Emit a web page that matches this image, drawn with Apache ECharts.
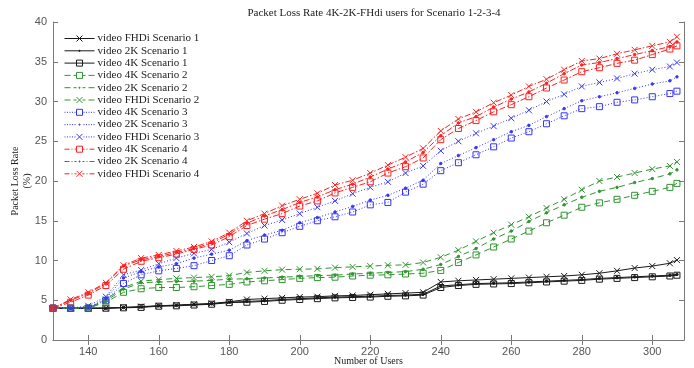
<!DOCTYPE html>
<html>
<head>
<meta charset="utf-8">
<script src="https://cdn.jsdelivr.net/npm/echarts@6/dist/echarts.min.js"></script>
<style>
  html, body { margin: 0; padding: 0; background: #fff; }
  #chart { width: 694px; height: 368px; }
</style>
</head>
<body>
<div id="chart"></div>
<script>
// number of users (x values)
var users = [130, 135, 140, 145, 150, 155, 160, 165, 170, 175, 180, 185, 190, 195, 200, 205, 210, 215, 220,
  225, 230, 235, 240, 245, 250, 255, 260, 265, 270, 275, 280, 285, 290, 295, 300, 305, 307];

var xTicks = [140, 160, 180, 200, 220, 240, 260, 280, 300];

// Scenario 1
var fhdi1 = [4.0, 4.0, 4.0, 4.0, 4.1, 4.2, 4.3, 4.4, 4.5, 4.6, 4.8, 5.1, 5.2, 5.3, 5.4, 5.45, 5.55, 5.6, 5.7,
  5.8, 5.9, 6.0, 7.3, 7.45, 7.55, 7.65, 7.75, 7.85, 7.95, 8.05, 8.2, 8.4, 8.7, 9.05, 9.3, 9.65, 10.05];
var k2_1 = [4.0, 4.0, 4.0, 4.0, 4.1, 4.15, 4.3, 4.35, 4.45, 4.55, 4.75, 4.85, 4.95, 5.1, 5.2, 5.3, 5.4, 5.45, 5.5,
  5.6, 5.65, 5.75, 6.8, 6.95, 7.1, 7.15, 7.2, 7.3, 7.4, 7.5, 7.6, 7.75, 7.85, 7.95, 8.05, 8.15, 8.25];
var k4_1 = [4.0, 4.0, 4.0, 4.0, 4.05, 4.1, 4.25, 4.3, 4.4, 4.5, 4.7, 4.75, 4.85, 5.0, 5.1, 5.2, 5.3, 5.35, 5.4,
  5.5, 5.55, 5.65, 6.6, 6.85, 7.0, 7.05, 7.1, 7.2, 7.3, 7.4, 7.5, 7.65, 7.75, 7.85, 7.95, 8.05, 8.15];

// Scenario 2
var k4_2 = [4.0, 4.0, 4.0, 4.75, 6.0, 6.45, 6.6, 6.6, 6.7, 6.85, 7.0, 7.3, 7.45, 7.6, 7.75, 7.85, 7.9, 8.05, 8.15,
  8.2, 8.3, 8.4, 8.75, 9.75, 10.7, 11.7, 12.7, 13.7, 14.75, 15.7, 16.7, 17.25, 17.7, 18.2, 18.7, 19.2, 19.7];
var k2_2 = [4.0, 4.0, 4.0, 4.9, 6.4, 7.2, 7.3, 7.35, 7.4, 7.5, 7.65, 7.7, 7.8, 7.9, 8.0, 8.1, 8.15, 8.3, 8.4,
  8.5, 8.6, 8.9, 9.5, 10.5, 11.5, 12.7, 13.7, 14.9, 16.0, 17.0, 17.95, 18.7, 19.2, 19.8, 20.3, 20.9, 21.4];
var fhdi2 = [4.0, 4.0, 4.0, 5.1, 6.6, 7.4, 7.6, 7.75, 7.85, 7.95, 8.1, 8.5, 8.7, 8.85, 8.9, 8.95, 9.1, 9.2, 9.3,
  9.4, 9.45, 9.75, 10.4, 11.3, 12.4, 13.5, 14.5, 15.5, 16.6, 17.7, 18.9, 20.0, 20.5, 21.0, 21.5, 21.9, 22.4];

// Scenario 3
var k4_3 = [4.0, 4.0, 4.0, 5.0, 7.1, 8.2, 8.7, 9.0, 9.35, 10.0, 10.6, 11.95, 12.7, 13.5, 14.3, 15.0, 15.5, 16.1, 17.0,
  17.3, 18.6, 19.6, 21.3, 22.3, 23.3, 24.3, 25.4, 26.2, 27.2, 28.2, 29.1, 29.35, 29.9, 30.2, 30.6, 31.0, 31.3];
var k2_3 = [4.0, 4.0, 4.1, 5.2, 7.8, 8.6, 9.2, 9.6, 10.3, 10.8, 11.3, 12.5, 13.2, 13.8, 14.75, 15.4, 16.1, 16.8, 17.6,
  18.2, 19.1, 20.1, 22.2, 23.2, 24.2, 25.2, 26.2, 27.0, 28.1, 29.1, 30.1, 30.6, 31.1, 31.65, 32.2, 32.6, 33.1];
var fhdi3 = [4.0, 4.0, 4.3, 5.45, 8.2, 8.8, 9.6, 10.3, 10.9, 11.4, 12.3, 13.4, 14.4, 15.1, 15.9, 16.7, 17.5, 18.4, 19.2,
  19.9, 21.0, 21.9, 23.8, 25.0, 26.0, 26.9, 27.9, 28.9, 30.0, 30.9, 31.9, 32.4, 32.9, 33.5, 34.0, 34.4, 34.9];

// Scenario 4
var k4_4 = [4.0, 4.75, 5.65, 6.85, 8.9, 9.9, 10.35, 10.8, 11.4, 11.95, 13.0, 14.4, 15.2, 15.9, 16.85, 17.5, 18.5, 19.2, 19.9,
  21.0, 21.8, 22.9, 25.2, 26.6, 27.6, 28.7, 29.6, 30.6, 31.7, 32.7, 33.75, 34.25, 34.8, 35.2, 35.9, 36.6, 37.0];
var k2_4 = [4.0, 5.0, 5.85, 7.1, 9.3, 10.1, 10.5, 11.0, 11.5, 12.2, 13.3, 14.7, 15.6, 16.4, 17.3, 18.0, 18.9, 19.6, 20.5,
  21.5, 22.4, 23.6, 25.7, 27.3, 28.1, 29.3, 30.3, 31.2, 32.3, 33.5, 34.6, 34.9, 35.4, 35.9, 36.4, 36.9, 37.5];
var fhdi4 = [4.0, 5.1, 6.0, 7.2, 9.4, 10.3, 10.7, 11.2, 11.7, 12.4, 13.5, 15.0, 15.9, 16.9, 17.7, 18.45, 19.5, 20.1, 21.0,
  22.0, 23.0, 24.1, 26.3, 27.8, 28.7, 29.85, 30.8, 31.9, 32.8, 34.0, 35.1, 35.4, 36.0, 36.5, 37.0, 37.5, 38.15];

var serif = 'Liberation Serif';
var sans = 'Liberation Sans';
var crossPath = 'path://M0,0L10,10M10,0L0,10';
var squarePath = 'path://M0,0L10,0L10,10L0,10Z';

// 图例图标: 线段 + 标记 (30 x 8)
var legendLines = {
  solid: 'M0,4L30,4',
  dashed: 'M0,4L6,4M9,4L12,4M18,4L21,4M24,4L30,4',
  dotted: 'M0,4L1,4M2.5,4L3.5,4M5,4L6,4M7.5,4L8.5,4M10,4L11,4M19,4L20,4M21.5,4L22.5,4M24,4L25,4M26.5,4L27.5,4M29,4L30,4',
  dashDot: 'M0,4L5,4M7,4L8,4M10,4L12,4M18,4L20,4M22,4L23,4M25,4L30,4'
};
var legendMarks = {
  rect: 'M12,1L18,1L18,7L12,7Z',
  x: 'M12,1L18,7M18,1L12,7',
  dot: 'M14.5,3.5L15.5,3.5L15.5,4.5L14.5,4.5Z'
};

/**
 * 组装一条折线
 */
function makeSeries(name, values, color, dash, marker) {
  var symbol = squarePath, size = 6, fill = 'rgba(255,255,255,0)';
  if (marker === 'x') { symbol = crossPath; size = 6; }
  if (marker === 'dot') { symbol = 'circle'; size = 2.5; fill = color; }
  var data = [];
  for (var i = 0; i < users.length; i++) {
    data.push([users[i], values[i]]);
  }
  return {
    name: name,
    type: 'line',
    data: data,
    symbol: symbol,
    symbolSize: size,
    showAllSymbol: true,
    animation: false,
    itemStyle: { color: fill, borderColor: color, borderWidth: 1 },
    lineStyle: { color: color, width: 1, type: dash.pattern },
    emphasis: { disabled: true },
    legendIconPath: 'path://' + legendLines[dash.key] + legendMarks[marker],
    lineColor: color
  };
}

var black = '#1a1a1a', green = '#2f962f', blue = '#3535ff', red = '#ff2020';
var solid = { key: 'solid', pattern: 'solid' };
var dashed = { key: 'dashed', pattern: [6, 4] };
var dotted = { key: 'dotted', pattern: [1, 2] };
var dashDot = { key: 'dashDot', pattern: [6, 2, 1.5, 2] };

var seriesList = [
  makeSeries('video FHDi Scenario 1', fhdi1, black, solid, 'x'),
  makeSeries('video 2K Scenario 1', k2_1, black, solid, 'dot'),
  makeSeries('video 4K Scenario 1', k4_1, black, solid, 'rect'),
  makeSeries('video 4K Scenario 2', k4_2, green, dashed, 'rect'),
  makeSeries('video 2K Scenario 2', k2_2, green, dashed, 'dot'),
  makeSeries('video FHDi Scenario 2', fhdi2, green, dashed, 'x'),
  makeSeries('video 4K Scenario 3', k4_3, blue, dotted, 'rect'),
  makeSeries('video 2K Scenario 3', k2_3, blue, dotted, 'dot'),
  makeSeries('video FHDi Scenario 3', fhdi3, blue, dotted, 'x'),
  makeSeries('video 4K Scenario 4', k4_4, red, dashDot, 'rect'),
  makeSeries('video 2K Scenario 4', k2_4, red, dashDot, 'dot'),
  makeSeries('video FHDi Scenario 4', fhdi4, red, dashDot, 'x')
];

var legendData = seriesList.map(function (s) {
  var item = {
    name: s.name,
    icon: s.legendIconPath,
    itemStyle: { color: 'rgba(0,0,0,0)', borderColor: s.lineColor, borderWidth: 1 }
  };
  delete s.legendIconPath;
  delete s.lineColor;
  return item;
});

var axisGray = '#7a7a7a';

var myChart = echarts.init(document.getElementById('chart'));
var option = {
  backgroundColor: '#fff',
  animation: false,
  title: {
    text: 'Packet Loss Rate 4K-2K-FHdi users for Scenario 1-2-3-4',
    left: 369,
    top: 3,
    textAlign: 'center',
    textStyle: { fontFamily: serif, fontWeight: 'normal', fontSize: 11, color: '#222' }
  },
  legend: {
    orient: 'vertical',
    left: 64,
    top: 33,
    itemWidth: 30,
    itemHeight: 8,
    itemGap: 1.3,
    padding: 0,
    symbolKeepAspect: true,
    textStyle: { fontFamily: serif, fontSize: 11, lineHeight: 11, color: '#222', padding: [0, 0, 0, -2] },
    data: legendData
  },
  grid: { left: 53, right: 10, top: 22, bottom: 28, containLabel: false, outerBoundsMode: 'none' },
  xAxis: [
    {
      type: 'value', min: 130, max: 309,
      name: 'Number of Users', nameLocation: 'middle', nameGap: 16, nameMoveOverlap: false,
      nameTextStyle: { fontFamily: serif, fontSize: 10, color: '#222' },
      axisLine: { lineStyle: { color: axisGray } },
      axisTick: { inside: true, length: 5, lineStyle: { color: axisGray }, customValues: xTicks },
      axisLabel: { fontFamily: sans, fontSize: 11, color: '#555', margin: 6, customValues: xTicks },
      splitLine: { show: false }
    },
    {
      type: 'value', min: 130, max: 309, position: 'top',
      axisLine: { lineStyle: { color: axisGray } },
      axisTick: { inside: true, length: 5, lineStyle: { color: axisGray }, customValues: xTicks },
      axisLabel: { show: false },
      splitLine: { show: false }
    }
  ],
  yAxis: [
    {
      type: 'value', min: 0, max: 40, interval: 5,
      name: 'Packet Loss Rate\n(%)', nameLocation: 'middle', nameGap: 20, nameRotate: 90, nameMoveOverlap: false,
      nameTextStyle: { fontFamily: serif, fontSize: 10, color: '#222', lineHeight: 12 },
      axisLine: { lineStyle: { color: axisGray } },
      axisTick: { inside: true, length: 5, lineStyle: { color: axisGray } },
      axisLabel: { fontFamily: sans, fontSize: 11, color: '#555', margin: 6 },
      splitLine: { show: false }
    },
    {
      type: 'value', min: 0, max: 40, interval: 5, position: 'right',
      axisLine: { lineStyle: { color: axisGray } },
      axisTick: { inside: true, length: 5, lineStyle: { color: axisGray } },
      axisLabel: { show: false },
      splitLine: { show: false }
    }
  ],
  series: seriesList
};
myChart.setOption(option);
</script>
</body>
</html>
